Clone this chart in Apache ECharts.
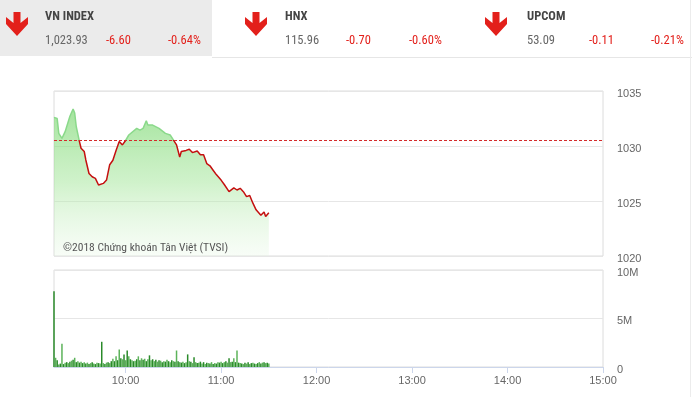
<!DOCTYPE html>
<html>
<head>
<meta charset="utf-8">
<script src="https://cdn.jsdelivr.net/npm/echarts@6/dist/echarts.min.js"></script>
<style>
html,body{margin:0;padding:0;background:#fff;}
#chart{width:692px;height:397px;}
</style>
</head>
<body>
<div id="chart"></div>
<script>
// ---- data ----
var indexNames = ['VN INDEX', 'HNX', 'UPCOM'];
var indexValues = ['1,023.93', '115.96', '53.09'];
var indexChanges = ['-6.60', '-0.70', '-0.11'];
var indexPercents = ['-0.64%', '-0.60%', '-0.21%'];

var referencePrice = 1030.53;

var priceTimes = ['9:15','9:17','9:18','9:20','9:22','9:25','9:27','9:28','9:29','9:31',
  '9:32','9:34','9:35','9:37','9:39','9:41','9:43','9:46','9:48','9:50',
  '9:52','9:54','9:56','9:58','10:00','10:02','10:07','10:09','10:11','10:13',
  '10:14','10:17','10:21','10:25','10:28','10:30','10:32','10:34','10:35','10:38',
  '10:40','10:42','10:45','10:47','10:49','10:51','10:53','10:55','10:57','11:00',
  '11:02','11:05','11:08','11:10','11:12','11:14','11:16','11:18','11:20','11:22',
  '11:25','11:27','11:28','11:30'];
var priceValues = [1032.6,1032.5,1031.15,1030.7,1031.3,1032.7,1033.36,1033.0,1031.75,1030.4,
  1029.8,1029.5,1028.73,1027.5,1027.2,1027.06,1026.45,1026.6,1026.9,1028.3,
  1028.7,1029.6,1030.4,1030.1,1030.5,1031.0,1031.6,1031.45,1031.6,1032.3,
  1031.9,1031.9,1031.6,1031.15,1031.0,1030.55,1030.1,1029.0,1029.5,1029.6,
  1029.7,1029.4,1029.55,1029.2,1029.2,1028.4,1028.2,1027.8,1027.4,1026.9,
  1026.5,1025.85,1026.2,1026.0,1026.15,1025.85,1025.4,1025.5,1024.8,1024.2,
  1023.7,1024.0,1023.6,1023.93];

// volume per minute from 9:15 (millions)
var volumeStart = '9:15';
var volumeValues = [7.8,0.95,0.7,0.25,0.35,2.4,0.3,0.45,0.5,0.4,
  0.55,0.65,0.75,0.95,0.5,0.6,0.45,0.55,0.4,0.5,
  0.35,0.45,0.3,0.4,0.5,0.35,0.3,0.45,0.4,0.35,
  2.6,0.4,0.3,0.45,0.5,0.4,0.6,0.85,0.6,1.1,
  0.7,1.8,0.9,0.8,1.3,0.7,1.7,1.1,0.8,0.7,
  0.6,0.65,0.8,1.1,0.7,0.9,0.75,0.85,0.6,0.8,
  1.2,0.7,0.8,0.6,0.75,0.55,0.7,0.65,0.5,0.6,
  0.55,0.75,0.6,0.5,0.7,0.6,0.55,1.7,0.6,0.5,
  0.45,0.55,0.4,0.5,1.3,0.6,0.55,0.4,1.0,0.5,
  0.4,0.45,0.55,0.35,0.5,0.3,0.45,0.4,0.35,0.5,
  0.3,0.4,0.35,0.5,0.45,0.55,0.4,0.5,0.6,0.45,
  0.9,0.5,0.55,0.9,0.5,1.7,0.45,0.4,0.35,0.3,
  0.45,0.35,0.5,0.3,0.4,0.45,0.35,0.3,0.4,0.5,
  0.35,0.45,0.5,0.4,0.45,0.35];

var xTickLabels = ['10:00','11:00','12:00','13:00','14:00','15:00'];
var xStart = '9:15', xEnd = '15:00';
var priceTicks = [1020, 1035, 5];
var volumeTicks = [0, 10, 5];

// ---- helpers ----
function toMin(s){ var p = s.split(':'); return (+p[0])*60 + (+p[1]); }
function fmtMin(m){ var h = Math.floor(m/60), mm = m%60; return (h<10?'0':'')+h+':'+(mm<10?'0':'')+mm; }

var priceData = priceTimes.map(function(t,i){ return [toMin(t), priceValues[i]]; });
var v0 = toMin(volumeStart);
var volumeData = volumeValues.map(function(v,i){ return [v0+i, v]; });
var tickMins = xTickLabels.map(toMin);

var condensed = '"Roboto Condensed","Liberation Sans Narrow","Roboto",sans-serif';
var red = '#e3201b';
var axisFont = '"Liberation Sans",Arial,sans-serif';

// ---- header graphics ----
var graphics = [
  {type:'rect', shape:{x:0,y:0,width:212,height:56}, style:{fill:'#ebebeb'}, silent:true},
  {type:'line', shape:{x1:212,y1:57.5,x2:692,y2:57.5}, style:{stroke:'#e6e6e6',lineWidth:1}},
  {type:'line', shape:{x1:690.5,y1:0,x2:690.5,y2:397}, style:{stroke:'#ececec',lineWidth:1}}
];
var arrowX = [17, 256, 496];
var nameX = [45, 285, 527];
var changeX = [106, 346, 589];
var pctX = [168, 409, 651];
function arrow(cx){
  return {type:'polygon', shape:{points:[
    [cx-3.5,12],[cx+3.5,12],[cx+3.5,23],[cx+11,17],[cx+11,24],[cx,36],[cx-11,24],[cx-11,17],[cx-3.5,23]
  ]}, style:{fill:red}};
}
for (var i=0;i<3;i++){
  graphics.push(arrow(arrowX[i]));
  graphics.push({type:'text', x:nameX[i], y:17, style:{text:indexNames[i], fill:'#444', font:'bold 12.5px '+condensed, textVerticalAlign:'middle'}});
  graphics.push({type:'text', x:nameX[i], y:41, style:{text:indexValues[i], fill:'#666', font:'12.5px '+condensed, textVerticalAlign:'middle'}});
  graphics.push({type:'text', x:changeX[i], y:41, style:{text:indexChanges[i], fill:red, font:'12.5px '+condensed, textVerticalAlign:'middle'}});
  graphics.push({type:'text', x:pctX[i], y:41, style:{text:indexPercents[i], fill:red, font:'12.5px '+condensed, textVerticalAlign:'middle'}});
}
graphics.push({type:'text', x:63, y:248, z:10, style:{text:'©2018 Chứng khoán Tân Việt (TVSI)', fill:'#555', font:'11.5px '+condensed, textVerticalAlign:'middle'}});

var richLabel = {a:{color:'#666', fontSize:11, fontFamily:axisFont, padding:[5,0,0,0]}};

var chart = echarts.init(document.getElementById('chart'), null, {renderer:'canvas'});
var option = {
  animation:false,
  backgroundColor:'#fff',
  graphic: graphics,
  grid:[
    {left:54, right:89, top:91, height:165, show:true, borderColor:'#dcdcdc', borderWidth:1, backgroundColor:'transparent'},
    {left:54, right:89, top:270, height:97, show:true, borderColor:'#dcdcdc', borderWidth:1, backgroundColor:'transparent'}
  ],
  xAxis:[
    {type:'value', gridIndex:0, min:toMin(xStart), max:toMin(xEnd), show:false, splitLine:{show:false}},
    {type:'value', gridIndex:1, min:toMin(xStart), max:toMin(xEnd), splitLine:{show:false},
     axisLine:{show:true, lineStyle:{color:'#ccd6eb'}},
     axisTick:{show:true, customValues:tickMins, length:6, lineStyle:{color:'#ccd6eb'}},
     axisLabel:{customValues:tickMins, formatter:function(v){ return fmtMin(v); }, color:'#666', fontSize:11, margin:8, fontFamily:axisFont}}
  ],
  yAxis:[
    {type:'value', gridIndex:0, position:'right', min:priceTicks[0], max:priceTicks[1], interval:priceTicks[2],
     axisLine:{show:false}, axisTick:{show:false},
     axisLabel:{margin:14, rich:richLabel, formatter:function(v){ return '{a|'+v+'}'; }},
     splitLine:{show:true, lineStyle:{color:'#e6e6e6'}}},
    {type:'value', gridIndex:1, position:'right', min:volumeTicks[0], max:volumeTicks[1], interval:volumeTicks[2],
     axisLine:{show:false}, axisTick:{show:false},
     axisLabel:{margin:14, rich:richLabel,
       formatter:function(v){ return '{a|'+(v===0 ? '0' : v+'M')+'}'; }},
     splitLine:{show:true, lineStyle:{color:'#e6e6e6'}}}
  ],
  series:[
    {type:'line', xAxisIndex:0, yAxisIndex:0, data:priceData, symbol:'none', smooth:false,
     lineStyle:{width:1.5, color:'#c40f0f'},
     areaStyle:{origin:'start', color:new echarts.graphic.LinearGradient(0,0,0,1,[
       {offset:0, color:'rgba(118,214,108,0.95)'},
       {offset:0.5, color:'rgba(165,230,155,0.75)'},
       {offset:1, color:'rgba(225,246,222,0.35)'}
     ])},
     markLine:{silent:true, symbol:'none', label:{show:false},
       lineStyle:{color:'#d42a2a', type:[3,2], width:1},
       data:[{yAxis:referencePrice}]}
    },
    {type:'bar', xAxisIndex:1, yAxisIndex:1, data:volumeData, barWidth:1.5,
     itemStyle:{color:function(p){ return p.dataIndex%2 ? '#5cb35a' : '#2a8a2a'; }}}
  ]
};
chart.setOption(option);

// colour the price line green above the reference and red below, using the axis scale
var refY = chart.convertToPixel({yAxisIndex:0}, referencePrice);
var topY = chart.convertToPixel({yAxisIndex:0}, priceTicks[1]);
var botY = chart.convertToPixel({yAxisIndex:0}, priceTicks[0]);
var f = (refY - topY) / (botY - topY);
chart.setOption({series:[{lineStyle:{color:new echarts.graphic.LinearGradient(0, topY, 0, botY, [
  {offset:0, color:'#8ad98a'}, {offset:f, color:'#8ad98a'},
  {offset:f, color:'#c40f0f'}, {offset:1, color:'#c40f0f'}
], true)}}]});
</script>
</body>
</html>
